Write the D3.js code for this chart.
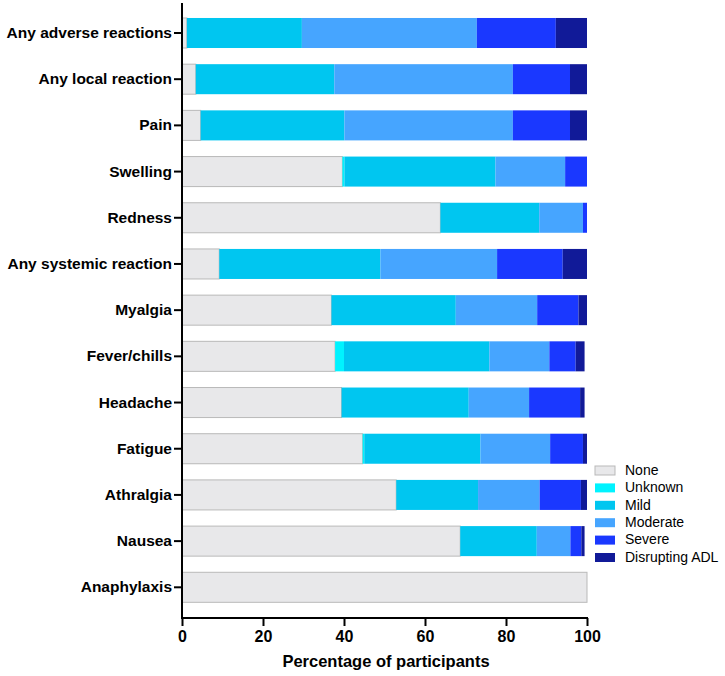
<!DOCTYPE html>
<html lang="en">
  <head>
    <meta charset="utf-8">
    <style>
      body { margin: 0; background: #fff; }
      text { font-family: "Liberation Sans", Arial, sans-serif; }
    </style>
  </head>
  <body>
    <div id="viz"></div>
    <script src="https://d3js.org/d3.v7.min.js"></script>
<script type="text/javascript">

var w = 725, h = 676;

// values (percent of participants)
var categories = ["Any adverse reactions","Any local reaction","Pain","Swelling","Redness",
  "Any systemic reaction","Myalgia","Fever/chills","Headache","Fatigue","Athralgia","Nausea","Anaphylaxis"];
var none     = [1.2, 3.4, 4.6, 39.6, 63.8, 9.2, 36.9, 37.8, 39.4, 44.6, 52.9, 68.7, 100];
var unknown  = [0,   0,   0,   0.5,  0,    0,   0,    2.2,  0,    0.4,  0,    0,    0];
var mild     = [28.4, 34.2, 35.5, 37.3, 24.4, 39.8, 30.7, 35.9, 31.4, 28.7, 20.2, 18.9, 0];
var moderate = [43.2, 44.1, 41.6, 17.2, 10.8, 28.8, 20.1, 14.8, 14.9, 17.2, 15.2, 8.3, 0];
var severe   = [19.5, 14.1, 14.1, 5.4, 1.0, 16.2, 10.2, 6.5, 12.6, 8.1, 10.2, 2.7, 0];
var adl      = [7.7, 4.2, 4.2, 0, 0, 6.0, 2.1, 2.2, 1.1, 1.0, 1.5, 0.8, 0];

var keys = ["None","Unknown","Mild","Moderate","Severe","Disrupting ADL"];
var series = [none, unknown, mild, moderate, severe, adl];
var colors = ["#e8e8ea","#00f3ff","#00c6f0","#46a5ff","#1a38ff","#111a98"];
var xTicks = [0, 20, 40, 60, 80, 100];

var rows = categories.map(function(c, i){
  var r = {name: c};
  keys.forEach(function(k, j){ r[k] = series[j][i]; });
  return r;
});

var svg = d3.select("#viz")
        .append("svg")
        .attr("width", w)
        .attr("height", h);

var x = d3.scaleLinear().domain([0, 100]).range([182, 587]);
var y = d3.scaleBand().domain(categories).range([9.9, 610.4])
        .paddingInner(0.35).paddingOuter(0.175);
var color = d3.scaleOrdinal().domain(keys).range(colors);

var stacked = d3.stack().keys(keys)(rows);

svg.append("g").selectAll("g")
  .data(stacked)
  .enter().append("g")
  .attr("fill", function(d){ return color(d.key); })
  .selectAll("rect")
  .data(function(d){ return d.map(function(v){ v.key = d.key; return v; }); })
  .enter().append("rect")
  .filter(function(d){ return d[1] - d[0] > 0; })
  .attr("x", function(d){ return x(d[0]); })
  .attr("y", function(d){ return y(d.data.name); })
  .attr("width", function(d){ return x(d[1]) - x(d[0]); })
  .attr("height", y.bandwidth())
  .attr("stroke", function(d){ return d.key == "None" ? "#b9b9b9" : "none"; })
  .attr("stroke-width", 1);

// y axis
var yAxis = svg.append("g")
  .attr("transform", "translate(182,0)")
  .call(d3.axisLeft(y).tickSize(8).tickPadding(2));
yAxis.select(".domain").remove();
yAxis.selectAll(".tick line").attr("stroke", "#000").attr("stroke-width", 2);
yAxis.selectAll(".tick text")
  .attr("font-size", "15.5px").attr("font-weight", "bold").attr("fill", "#000")
  .attr("font-family", "Liberation Sans, Arial, sans-serif");
svg.append("line")
  .attr("x1", 182).attr("x2", 182).attr("y1", 3).attr("y2", 619)
  .attr("stroke", "#000").attr("stroke-width", 2);

// x axis
var xAxis = svg.append("g")
  .attr("transform", "translate(0,618)")
  .call(d3.axisBottom(x).tickValues(xTicks).tickSize(8).tickPadding(5));
xAxis.select(".domain").remove();
xAxis.selectAll(".tick line").attr("stroke", "#000").attr("stroke-width", 2);
xAxis.selectAll(".tick text")
  .attr("font-size", "16px").attr("font-weight", "bold").attr("fill", "#000")
  .attr("font-family", "Liberation Sans, Arial, sans-serif");
svg.append("line")
  .attr("x1", 181).attr("x2", 588).attr("y1", 618).attr("y2", 618)
  .attr("stroke", "#000").attr("stroke-width", 2);

svg.append("text")
  .attr("x", 386).attr("y", 667)
  .attr("text-anchor", "middle")
  .attr("font-size", "16.5px").attr("font-weight", "bold")
  .text("Percentage of participants");

// legend
var legend = svg.append("g").attr("transform", "translate(595,466)");
var li = legend.selectAll("g").data(keys).enter().append("g")
  .attr("transform", function(d, i){ return "translate(0," + (i * 17.4) + ")"; });
li.append("rect")
  .attr("width", 20).attr("height", 9)
  .attr("fill", function(d){ return color(d); })
  .attr("stroke", function(d){ return d == "None" ? "#b9b9b9" : "none"; });
li.append("text")
  .attr("x", 30).attr("y", 5)
  .attr("dominant-baseline", "middle")
  .attr("font-size", "14px")
  .text(function(d){ return d; });

  </script>
  </body>
</html>
